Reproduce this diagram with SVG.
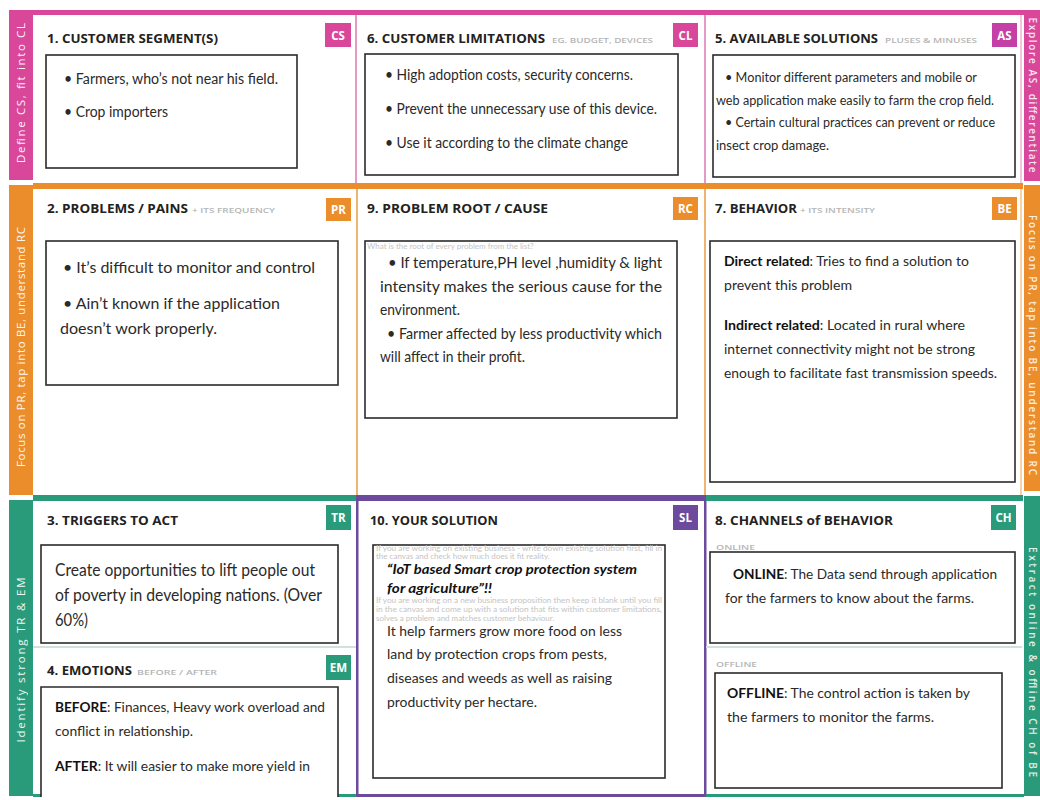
<svg xmlns="http://www.w3.org/2000/svg" width="1040" height="800" viewBox="0 0 1040 800">
<style>
.title{font-family:"Open Sans","Liberation Sans",sans-serif;font-weight:700;font-size:12.5px;fill:#222}
.sub{font-family:"Open Sans","Liberation Sans",sans-serif;font-size:7.5px;fill:#b5b5b5;font-weight:600}
.badge{font-family:"Open Sans","Liberation Sans",sans-serif;font-weight:700;font-size:11.5px;fill:#fff;text-anchor:middle}
.body{font-family:"Lato","Liberation Sans",sans-serif;fill:#2a2a2a}
.b{font-weight:700;fill:#111}
.box{fill:#fff;stroke:#2b2b2b;stroke-width:1.6}
.side{font-family:"Open Sans","Liberation Sans",sans-serif;font-size:11.5px;fill:#fff;text-anchor:middle;opacity:0.92}
.sider{font-family:"Open Sans","Liberation Sans",sans-serif;font-size:10px;fill:#fff;text-anchor:middle;font-weight:600;opacity:0.85}
.ghost{font-family:"Lato","Liberation Sans",sans-serif;font-size:8px;fill:#c4c4c4}
.pink{fill:#d9479b}.orange{fill:#ec8d2c}.green{fill:#2a9b7a}.purple{fill:#6c4b9e}
</style>
<rect width="1040" height="800" fill="#fff"/>
<g id="frame">
<rect x="9" y="10" width="1031" height="5" class="pink"/>
<rect x="9" y="10" width="24" height="170" class="pink"/>
<rect x="9" y="185" width="24" height="310" class="orange"/>
<rect x="9" y="500" width="24" height="296" class="green"/>
<rect x="1024" y="15" width="16" height="166" class="pink"/>
<rect x="1024" y="185" width="16" height="306" class="orange"/>
<rect x="1024" y="496" width="16" height="300" class="green"/>
<rect x="33" y="183" width="990" height="6" class="orange"/>
<rect x="33" y="495" width="325" height="6" class="green"/>
<rect x="705" y="495" width="318" height="6" class="green"/>
<rect x="356" y="495" width="350" height="6" class="purple"/>
<rect x="355" y="15" width="2" height="168" fill="#e49ac6"/>
<rect x="704" y="15" width="2" height="168" fill="#e49ac6"/>
<rect x="1020" y="15" width="2" height="168" fill="#f2c6de"/>
<rect x="356" y="189" width="2" height="306" fill="#f0b46e"/>
<rect x="704" y="189" width="2" height="306" fill="#f0b46e"/>
<rect x="1020" y="189" width="2" height="306" fill="#f6d2a8"/>
<rect x="356" y="501" width="2.5" height="295" class="purple"/>
<rect x="704" y="501" width="2.5" height="295" class="purple"/>
<rect x="33" y="794" width="323" height="3" class="green"/>
<rect x="356" y="794" width="350" height="3" class="purple"/>
<rect x="706" y="794" width="318" height="3" class="green"/>
<rect x="33" y="646" width="323" height="2" fill="#cfe3dc"/>
<rect x="706" y="646" width="316" height="2" fill="#cfe3dc"/>
<text class="side" transform="translate(25,93) rotate(-90)" textLength="140" lengthAdjust="spacing">Define CS, fit into CL</text>
<text class="side" transform="translate(25,347) rotate(-90)" textLength="240" lengthAdjust="spacing">Focus on PR, tap into BE, understand RC</text>
<text class="side" transform="translate(25,660) rotate(-90)" textLength="165" lengthAdjust="spacing">Identify strong TR &amp; EM</text>
<text class="sider" transform="translate(1028.5,95) rotate(90)" textLength="155" lengthAdjust="spacing">Explore AS, differentiate</text>
<text class="sider" transform="translate(1028.5,345) rotate(90)" textLength="260" lengthAdjust="spacing">Focus on PR, tap into BE, understand RC</text>
<text class="sider" transform="translate(1028.5,662) rotate(90)" textLength="230" lengthAdjust="spacing">Extract online &amp; offline CH of BE</text>
</g>
<g id="connectors"></g>
<g id="cs">
<text class="title" x="47" y="43" textLength="171" lengthAdjust="spacingAndGlyphs">1. CUSTOMER SEGMENT(S)</text>
<rect x="325" y="23" width="26" height="24" class="pink"/><text class="badge" x="338" y="40">CS</text>
<rect x="46" y="55" width="251" height="113" class="box"/>
<text class="body" font-size="14.5" x="64" y="84" textLength="214" lengthAdjust="spacingAndGlyphs">• Farmers, who’s not near his field.</text>
<text class="body" font-size="14.5" x="64" y="117" textLength="104" lengthAdjust="spacingAndGlyphs">• Crop importers</text>
</g>
<g id="cl">
<text class="title" x="367" y="43" textLength="178" lengthAdjust="spacingAndGlyphs">6. CUSTOMER LIMITATIONS</text>
<text class="sub" x="552" y="43" textLength="101" lengthAdjust="spacingAndGlyphs">EG. BUDGET, DEVICES</text>
<rect x="673" y="23" width="25" height="24" class="pink"/><text class="badge" x="685.5" y="40">CL</text>
<rect x="365" y="54" width="313" height="121" class="box"/>
<text class="body" font-size="14.5" x="385" y="80" textLength="248" lengthAdjust="spacingAndGlyphs">• High adoption costs, security concerns.</text>
<text class="body" font-size="14.5" x="385" y="114" textLength="272" lengthAdjust="spacingAndGlyphs">• Prevent the unnecessary use of this device.</text>
<text class="body" font-size="14.5" x="385" y="148" textLength="243" lengthAdjust="spacingAndGlyphs">• Use it according to the climate change</text>
</g>
<g id="as">
<text class="title" x="715" y="43" textLength="163" lengthAdjust="spacingAndGlyphs">5. AVAILABLE SOLUTIONS</text>
<text class="sub" x="885" y="43" textLength="92" lengthAdjust="spacingAndGlyphs">PLUSES &amp; MINUSES</text>
<rect x="992" y="23" width="25" height="24" fill="#c43fa6"/><text class="badge" x="1004.5" y="40">AS</text>
<rect x="713" y="55" width="302" height="122" class="box"/>
<text class="body" font-size="12.5" x="725" y="82" textLength="252" lengthAdjust="spacingAndGlyphs">• Monitor different parameters and mobile or</text>
<text class="body" font-size="12.5" x="716" y="105" textLength="278" lengthAdjust="spacingAndGlyphs">web application make easily to farm the crop field.</text>
<text class="body" font-size="12.5" x="725" y="127" textLength="270" lengthAdjust="spacingAndGlyphs">• Certain cultural practices can prevent or reduce</text>
<text class="body" font-size="12.5" x="716" y="150" textLength="113" lengthAdjust="spacingAndGlyphs">insect crop damage.</text>
</g>
<g id="pr">
<text class="title" x="47" y="213" textLength="141" lengthAdjust="spacingAndGlyphs">2. PROBLEMS / PAINS</text>
<text class="sub" x="192" y="213" textLength="83" lengthAdjust="spacingAndGlyphs">+ ITS FREQUENCY</text>
<rect x="326" y="198" width="25" height="23" class="orange"/><text class="badge" x="338.5" y="214">PR</text>
<rect x="46" y="241" width="292" height="144" class="box"/>
<text class="body" font-size="16" x="63" y="273" textLength="252" lengthAdjust="spacingAndGlyphs">• It’s difficult to monitor and control</text>
<text class="body" font-size="16" x="63" y="309" textLength="217" lengthAdjust="spacingAndGlyphs">• Ain’t known if the application</text>
<text class="body" font-size="16" x="60" y="334" textLength="157" lengthAdjust="spacingAndGlyphs">doesn’t work properly.</text>
</g>
<g id="rc">
<text class="title" x="367" y="213" textLength="181" lengthAdjust="spacingAndGlyphs">9. PROBLEM ROOT / CAUSE</text>
<rect x="673" y="197" width="25" height="23" class="orange"/><text class="badge" x="685.5" y="213">RC</text>
<rect x="365" y="241" width="312" height="177" class="box"/>
<text class="ghost" x="367" y="249">What is the root of every problem from the list?</text>
<text class="body" font-size="15" x="388" y="268" textLength="274" lengthAdjust="spacingAndGlyphs">• If temperature,PH level ,humidity &amp; light</text>
<text class="body" font-size="15" x="380" y="292" textLength="282" lengthAdjust="spacingAndGlyphs">intensity makes the serious cause for the</text>
<text class="body" font-size="15" x="380" y="315" textLength="80" lengthAdjust="spacingAndGlyphs">environment.</text>
<text class="body" font-size="15" x="387" y="339" textLength="275" lengthAdjust="spacingAndGlyphs">• Farmer affected by less productivity which</text>
<text class="body" font-size="15" x="380" y="362" textLength="145" lengthAdjust="spacingAndGlyphs">will affect in their profit.</text>
</g>
<g id="be">
<text class="title" x="715" y="213" textLength="82" lengthAdjust="spacingAndGlyphs">7. BEHAVIOR</text>
<text class="sub" x="800" y="213" textLength="75" lengthAdjust="spacingAndGlyphs">+ ITS INTENSITY</text>
<rect x="992" y="197" width="25" height="23" class="orange"/><text class="badge" x="1004.5" y="213">BE</text>
<rect x="710" y="241" width="305" height="241" class="box"/>
<text class="body" font-size="14" x="724" y="266" textLength="245" lengthAdjust="spacingAndGlyphs"><tspan class="b">Direct related</tspan>: Tries to find a solution to</text>
<text class="body" font-size="14" x="724" y="290" textLength="128" lengthAdjust="spacingAndGlyphs">prevent this problem</text>
<text class="body" font-size="14" x="724" y="330" textLength="241" lengthAdjust="spacingAndGlyphs"><tspan class="b">Indirect related</tspan>: Located in rural where</text>
<text class="body" font-size="14" x="724" y="354" textLength="251" lengthAdjust="spacingAndGlyphs">internet connectivity might not be strong</text>
<text class="body" font-size="14" x="724" y="378" textLength="273" lengthAdjust="spacingAndGlyphs">enough to facilitate fast transmission speeds.</text>
</g>
<g id="tr">
<text class="title" x="47" y="525" textLength="131" lengthAdjust="spacingAndGlyphs">3. TRIGGERS TO ACT</text>
<rect x="326" y="505" width="25" height="25" class="green"/><text class="badge" x="338.5" y="522">TR</text>
<rect x="41" y="545" width="297" height="98" class="box"/>
<text class="body" font-size="16.5" x="55" y="576" textLength="260" lengthAdjust="spacingAndGlyphs">Create opportunities to lift people out</text>
<text class="body" font-size="16.5" x="55" y="601" textLength="267" lengthAdjust="spacingAndGlyphs">of poverty in developing nations. (Over</text>
<text class="body" font-size="16.5" x="55" y="626" textLength="33" lengthAdjust="spacingAndGlyphs">60%)</text>
</g>
<g id="em">
<text class="title" x="47" y="675" textLength="85" lengthAdjust="spacingAndGlyphs">4. EMOTIONS</text>
<text class="sub" x="137" y="675" textLength="80" lengthAdjust="spacingAndGlyphs">BEFORE / AFTER</text>
<rect x="326" y="655" width="25" height="25" class="green"/><text class="badge" x="338.5" y="672">EM</text>
<path d="M41 797 V687 H338 V797" class="box"/>
<text class="body" font-size="14" x="55" y="712" textLength="270" lengthAdjust="spacingAndGlyphs"><tspan class="b">BEFORE</tspan>: Finances, Heavy work overload and</text>
<text class="body" font-size="14" x="55" y="736" textLength="138" lengthAdjust="spacingAndGlyphs">conflict in relationship.</text>
<text class="body" font-size="14" x="55" y="771" textLength="255" lengthAdjust="spacingAndGlyphs"><tspan class="b">AFTER</tspan>: It will easier to make more yield in</text>
</g>
<g id="sl">
<text class="title" x="370" y="525" textLength="128" lengthAdjust="spacingAndGlyphs">10. YOUR SOLUTION</text>
<rect x="673" y="505" width="25" height="25" class="purple"/><text class="badge" x="685.5" y="522">SL</text>
<rect x="373" y="545" width="292" height="233" class="box"/>
<text class="ghost" font-size="7" x="376" y="551" textLength="286" lengthAdjust="spacingAndGlyphs">If you are working on existing business - write down existing solution first, fill in</text>
<text class="ghost" font-size="7" x="376" y="559">the canvas and check how much does it fit reality.</text>
<text class="ghost" font-size="7" x="376" y="603" textLength="286" lengthAdjust="spacingAndGlyphs">If you are working on a new business proposition then keep it blank until you fill</text>
<text class="ghost" font-size="7" x="376" y="612" textLength="286" lengthAdjust="spacingAndGlyphs">in the canvas and come up with a solution that fits within customer limitations,</text>
<text class="ghost" font-size="7" x="376" y="621">solves a problem and matches customer behaviour.</text>
<text class="body b" font-size="14" font-style="italic" x="387" y="574" textLength="250" lengthAdjust="spacingAndGlyphs">“IoT based Smart crop protection system</text>
<text class="body b" font-size="14" font-style="italic" x="387" y="593" textLength="105" lengthAdjust="spacingAndGlyphs">for agriculture”!!</text>
<text class="body" font-size="14" x="387" y="636" textLength="235" lengthAdjust="spacingAndGlyphs">It help farmers grow more food on less</text>
<text class="body" font-size="14" x="387" y="659" textLength="220" lengthAdjust="spacingAndGlyphs">land by protection crops from pests,</text>
<text class="body" font-size="14" x="387" y="683" textLength="225" lengthAdjust="spacingAndGlyphs">diseases and weeds as well as raising</text>
<text class="body" font-size="14" x="387" y="707" textLength="150" lengthAdjust="spacingAndGlyphs">productivity per hectare.</text>
</g>
<g id="ch">
<text class="title" x="715" y="525" textLength="178" lengthAdjust="spacingAndGlyphs">8. CHANNELS of BEHAVIOR</text>
<rect x="991" y="505" width="25" height="25" class="green"/><text class="badge" x="1003.5" y="522">CH</text>
<text class="sub" x="716" y="550" textLength="39" lengthAdjust="spacingAndGlyphs">ONLINE</text>
<rect x="710" y="552" width="305" height="91" class="box"/>
<text class="body" font-size="14" x="733" y="579" textLength="264" lengthAdjust="spacingAndGlyphs"><tspan class="b">ONLINE</tspan>: The Data send through application</text>
<text class="body" font-size="14" x="725" y="603" textLength="249" lengthAdjust="spacingAndGlyphs">for the farmers to know about the farms.</text>
<text class="sub" x="716" y="667" textLength="41" lengthAdjust="spacingAndGlyphs">OFFLINE</text>
<rect x="715" y="673" width="287" height="115" class="box"/>
<text class="body" font-size="14" x="727" y="698" textLength="243" lengthAdjust="spacingAndGlyphs"><tspan class="b">OFFLINE</tspan>: The control action is taken by</text>
<text class="body" font-size="14" x="727" y="722" textLength="207" lengthAdjust="spacingAndGlyphs">the farmers to monitor the farms.</text>
</g>
</svg>
